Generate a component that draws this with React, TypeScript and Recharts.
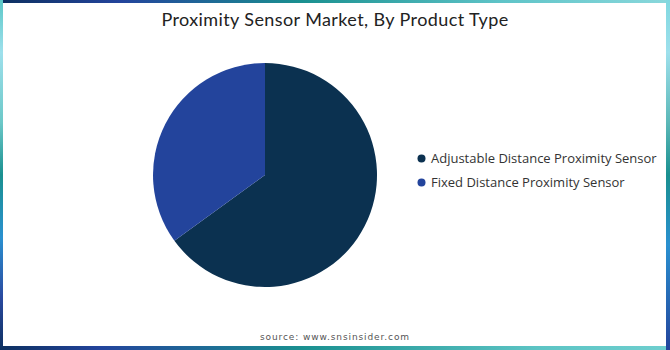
import React from "react";
import { PieChart, Pie, Cell, Legend } from "recharts";

const categories = ["Adjustable Distance Proximity Sensor", "Fixed Distance Proximity Sensor"];
const shares = [65, 35];
const colors = ["#0b3150", "#23449c"];
const title = "Proximity Sensor Market, By Product Type";
const source = "source: www.snsinsider.com";

const data = categories.map((name, i) => ({ name, value: shares[i] }));

const renderLegend = (props: any) => {
  const { payload } = props;
  return (
    <div>
      {payload.map((entry: any, i: number) => (
        <div key={i} style={{ display: "flex", alignItems: "center", height: 24 }}>
          <svg width={9} height={9} style={{ marginRight: 5 }}>
            <circle cx={4.5} cy={4.5} r={4} fill={entry.color} />
          </svg>
          <span style={{ fontFamily: "'Open Sans', sans-serif", fontSize: 13, color: "#333" }}>
            {entry.value}
          </span>
        </div>
      ))}
    </div>
  );
};

export default function App() {
  return (
    <div style={{ position: "absolute", left: 0, top: 0, width: 670, height: 350, overflow: "hidden", background: "#fff" }}>
      <div style={{ position: "absolute", left: 0, top: 0, width: 670, height: 3, background: "linear-gradient(to right, #0d3060 0%, #23449c 18%, #1a9090 45%, #5fc4c8 75%, #8ad8dc 100%)" }} />
      <div style={{ position: "absolute", left: 0, top: 346, width: 670, height: 4, background: "linear-gradient(to right, #0d3060 0%, #23449c 15%, #1a9090 45%, #5cc4c4 80%, #6fcfcf 100%)" }} />
      <div style={{ position: "absolute", left: 0, top: 0, width: 3, height: 350, background: "linear-gradient(to bottom, #5cc8c8 0%, #9ee0ec 15%, #6cc8c8 35%, #1a9090 50%, #2a90d0 68%, #2a4aa0 85%, #0d3060 100%)" }} />
      <div style={{ position: "absolute", left: 666, top: 0, width: 4, height: 350, background: "linear-gradient(to bottom, #80d8e0 0%, #9ee0ec 15%, #5cb8b8 35%, #1a9090 50%, #2a90d0 70%, #23449c 100%)" }} />
      <div style={{ position: "absolute", left: 0, top: 8, width: 670, textAlign: "center", fontFamily: "'Lato', sans-serif", fontSize: 18, color: "#222", letterSpacing: 0.4 }}>
        {title}
      </div>
      <div style={{ position: "absolute", left: 0, top: 332, width: 670, textAlign: "center", fontFamily: "'DejaVu Sans', sans-serif", fontSize: 9, color: "#555", letterSpacing: 0.9 }}>
        {source}
      </div>
      <div style={{ position: "absolute", left: 0, top: 0 }}>
        <PieChart width={670} height={350} margin={{ top: 0, right: 0, bottom: 0, left: 0 }}>
          <Pie
            data={data}
            dataKey="value"
            nameKey="name"
            cx={265}
            cy={175}
            outerRadius={112}
            startAngle={90}
            endAngle={-270}
            stroke="none"
            isAnimationActive={false}
          >
            {data.map((d, i) => (
              <Cell key={d.name} fill={colors[i]} />
            ))}
          </Pie>
          <Legend
            layout="vertical"
            content={renderLegend}
            wrapperStyle={{ left: 417, top: 146, width: 250 }}
          />
        </PieChart>
      </div>
    </div>
  );
}
